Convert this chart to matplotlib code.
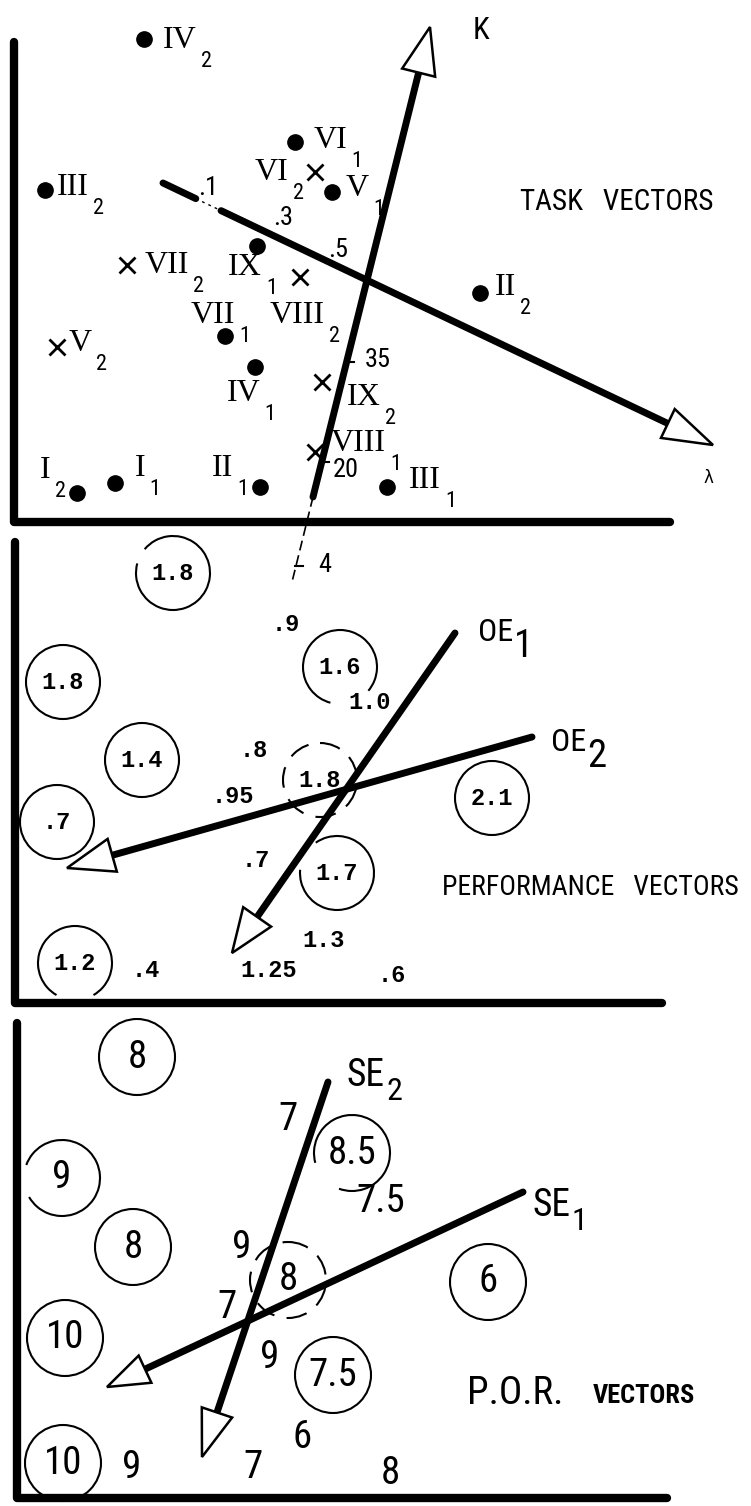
import matplotlib
matplotlib.use('Agg')
import matplotlib.pyplot as plt
from matplotlib import font_manager
from matplotlib.patches import Arc, Circle, Polygon
import numpy as np

# pick a narrow sans for the hand-lettered text
installed = {f.name for f in font_manager.fontManager.ttflist}
NARROW = next((n for n in ['Liberation Sans Narrow', 'Roboto Condensed',
                           'Open Sans Condensed', 'Liberation Sans'] if n in installed), 'DejaVu Sans')
SHRINK = 1.0 if 'Narrow' in NARROW or 'Condensed' in NARROW else 0.82
SERIF = 'Liberation Serif'
MONO = 'Liberation Mono'

# ---------------- data (coordinates on the original sheet, pixels) ----------------
# panel 1 : task vectors
dot_names = ['IV', 'VI', 'V', 'III', 'IX', 'VII', 'IV', 'II', 'I', 'I', 'II', 'III']
dot_subs = ['2', '1', '1', '2', '1', '1', '1', '2', '2', '1', '1', '1']
dot_x = [144, 295, 332, 45, 257, 225, 255, 480, 77, 115, 260, 387]
dot_y = [39, 142, 192, 190, 246, 336, 367, 293, 493, 483, 487, 487]

cross_names = ['VII', 'VI', 'VIII', 'V', 'IX', 'VIII']
cross_subs = ['2', '2', '2', '2', '2', '1']
cross_x = [127, 315, 300, 57, 322, 315]
cross_y = [265, 172, 277, 347, 382, 452]

K_axis = [(313, 497), (430, 27)]
lam_axis = [(163, 183), (713, 445)]
K_ext = [(313, 497), (292, 582)]
lam_ticks = ['.1', '.3', '.5']
K_ticks = ['35', '20', '4']

# panel 2 : performance vectors
circ2_vals = ['1.8', '1.8', '1.6', '1.4', '.7', '1.8', '1.7', '1.2', '2.1']
circ2_x = [173, 63, 340, 142, 57, 320, 337, 75, 492]
circ2_y = [573, 682, 667, 760, 822, 780, 873, 963, 798]

free2_vals = ['.9', '1.0', '.8', '.95', '.7', '1.3', '.4', '1.25', '.6']
free2_x = [272, 348, 240, 212, 242, 302, 132, 240, 378]
free2_y = [624, 702, 750, 796, 860, 940, 970, 970, 975]

OE1 = [(455, 633), (232, 953)]
OE2 = [(532, 737), (67, 868)]

# panel 3 : P.O.R. vectors
circ3_vals = ['8', '9', '8', '10', '10', '8.5', '8', '7.5', '6']
circ3_x = [137, 62, 133, 65, 63, 352, 288, 333, 488]
circ3_y = [1057, 1178, 1247, 1338, 1463, 1153, 1280, 1375, 1282]

free3_vals = ['7', '7.5', '9', '7', '9', '6', '9', '7', '8']
free3_x = [288, 381, 242, 227, 270, 302, 132, 253, 390]
free3_y = [1120, 1202, 1247, 1308, 1358, 1438, 1467, 1468, 1473]

SE1 = [(523, 1192), (107, 1387)]
SE2 = [(328, 1082), (202, 1457)]

# ---------------- layout / style ----------------
dot_lab = [(163, 40), (314, 140), (346, 188), (57, 187), (228, 267), (191, 315),
           (227, 393), (495, 287), (40, 470), (135, 468), (212, 468), (409, 480)]
cross_lab = [(145, 265), (255, 172), (270, 315), (69, 343), (347, 397), (331, 443)]
lam_tick_pos = [(198, 188), (273, 218), (328, 250)]
K_tick_pos = [(350, 362), (325, 462), (299, 566)]
K_tick_lab = [(365, 360), (333, 470), (318, 565)]
# visual gaps (deg, ccw from the right) in the hand drawn circles
circ2_gap = [(140, 165), None, (255, 320), None, None, 'dash', (125, 175), (240, 300), None]
circ3_gap = [None, (160, 210), None, None, None, (195, 250), 'dash', None, None]
frames = [(14, 42, 522, 670), (15, 542, 1003, 662), (17, 1023, 1498, 667)]

fig = plt.figure(figsize=(7.51, 15.06), dpi=100)
ax = fig.add_axes([0, 0, 1, 1])
ax.set_xlim(0, 751)
ax.set_ylim(1506, 0)
ax.axis('off')


def fs(s):
    return s * SHRINK


def label(x, y, main, sub, fam, size, subsize, dx=4, dy=-20, subfam=None, weight='normal'):
    t = ax.text(x, y, main, family=fam, fontsize=size, fontweight=weight, ha='left', va='center')
    ax.annotate(sub, xy=(1, 0.5), xycoords=t, xytext=(dx, dy), textcoords='offset pixels',
                family=subfam or NARROW, fontsize=subsize, ha='left', va='center')


def vector(p0, p1, hl=47, hw=17, lw=5, gap=None):
    p0 = np.array(p0, float)
    p1 = np.array(p1, float)
    u = (p1 - p0) / np.hypot(*(p1 - p0))
    nrm = np.array([-u[1], u[0]])
    base = p1 - hl * u
    if gap is None:
        ax.plot([p0[0], base[0]], [p0[1], base[1]], color='black', lw=lw, solid_capstyle='round')
    else:
        a = p0 + gap[0] * (base - p0)
        b = p0 + gap[1] * (base - p0)
        ax.plot([p0[0], a[0]], [p0[1], a[1]], color='black', lw=lw, solid_capstyle='round')
        ax.plot([a[0], b[0]], [a[1], b[1]], color='black', lw=1, ls=(0, (2, 3)))
        ax.plot([b[0], base[0]], [b[1], base[1]], color='black', lw=lw, solid_capstyle='round')
    ax.add_patch(Polygon([p1, base + hw * nrm, base - hw * nrm], closed=True,
                         fc='white', ec='black', lw=1.8, zorder=4))


def ring(x, y, gap, r=37):
    if gap is None:
        ax.add_patch(Circle((x, y), r, fill=False, ec='black', lw=1.5))
    elif gap == 'dash':
        ax.add_patch(Circle((x, y), r, fill=False, ec='black', lw=1.5, ls=(0, (10, 6))))
    else:
        a, b = gap
        ax.add_patch(Arc((x, y), 2 * r, 2 * r, theta1=-a, theta2=360 - b, ec='black', lw=1.5))


# frames
for left, top, bottom, right in frames:
    ax.plot([left, left, right], [top, bottom, bottom], color='black', lw=6,
            solid_capstyle='round', solid_joinstyle='round')

# ---- panel 1 ----
ax.plot(dot_x, dot_y, 'o', color='black', ms=11, ls='none')
ax.plot(cross_x, cross_y, 'x', color='black', ms=11, mew=2, ls='none')
for (lx, ly), n, s in zip(dot_lab, dot_names, dot_subs):
    label(lx, ly, n, s, SERIF, 23, fs(16), dy=-21)
for (lx, ly), n, s in zip(cross_lab, cross_names, cross_subs):
    label(lx, ly, n, s, SERIF, 23, fs(16), dy=-21)

ax.plot([K_ext[0][0], K_ext[1][0]], [K_ext[0][1], K_ext[1][1]], color='black', lw=1.2, ls=(0, (6, 3)))
vector(*K_axis, hl=47, hw=17, lw=5)
vector(*lam_axis, hl=50, hw=16, lw=5, gap=(0.065, 0.115))
for (tx, ty), t in zip(lam_tick_pos, lam_ticks):
    ax.text(tx, ty, t, family=NARROW, fontsize=fs(19), ha='left', va='center')
for (px, py), (tx, ty), t in zip(K_tick_pos, K_tick_lab, K_ticks):
    ax.plot([px - 4, px + 4], [py, py], color='black', lw=1.5)
    ax.text(tx, ty, t, family=NARROW, fontsize=fs(19), ha='left', va='center')
ax.text(473, 30, 'K', family=NARROW, fontsize=fs(22), ha='left', va='center')
ax.text(708, 478, 'λ', family=['DejaVu Sans'], fontsize=12, ha='center', va='center')
ax.text(520, 202, 'TASK   VECTORS', family=NARROW, fontsize=fs(21), ha='left', va='center')

# ---- panel 2 ----
for x, y, v, g in zip(circ2_x, circ2_y, circ2_vals, circ2_gap):
    ring(x, y, g)
    ax.text(x, y, v, family=MONO, fontsize=17, fontweight='bold', ha='center', va='center')
for x, y, v in zip(free2_x, free2_y, free2_vals):
    ax.text(x, y, v, family=MONO, fontsize=17, fontweight='bold', ha='left', va='center')
vector(*OE1, hl=44, hw=17, lw=5)
vector(*OE2, hl=47, hw=17, lw=5)
label(478, 632, 'OE', '1', NARROW, fs(23), fs(28), dx=1, dy=-14)
label(551, 742, 'OE', '2', NARROW, fs(23), fs(28), dx=1, dy=-14)
ax.text(442, 887, 'PERFORMANCE   VECTORS', family=NARROW, fontsize=fs(20), ha='left', va='center')

# ---- panel 3 ----
for x, y, v, g in zip(circ3_x, circ3_y, circ3_vals, circ3_gap):
    ring(x, y, g, r=38)
    ax.text(x, y, v, family=NARROW, fontsize=fs(28), ha='center', va='center')
for x, y, v in zip(free3_x, free3_y, free3_vals):
    ax.text(x, y, v, family=NARROW, fontsize=fs(28), ha='center', va='center')
vector(*SE1, hl=42, hw=15, lw=5)
vector(*SE2, hl=47, hw=16, lw=5)
label(347, 1075, 'SE', '2', NARROW, fs(27), fs(23), dx=1, dy=-16)
label(532, 1205, 'SE', '1', NARROW, fs(27), fs(23), dx=1, dy=-16)
ax.text(467, 1393, 'P.O.R.', family=NARROW, fontsize=fs(28), ha='left', va='center')
ax.text(593, 1396, 'VECTORS', family=NARROW, fontsize=fs(19), fontweight='bold', ha='left', va='center')

fig.savefig('out.png', dpi=100, facecolor='white')
